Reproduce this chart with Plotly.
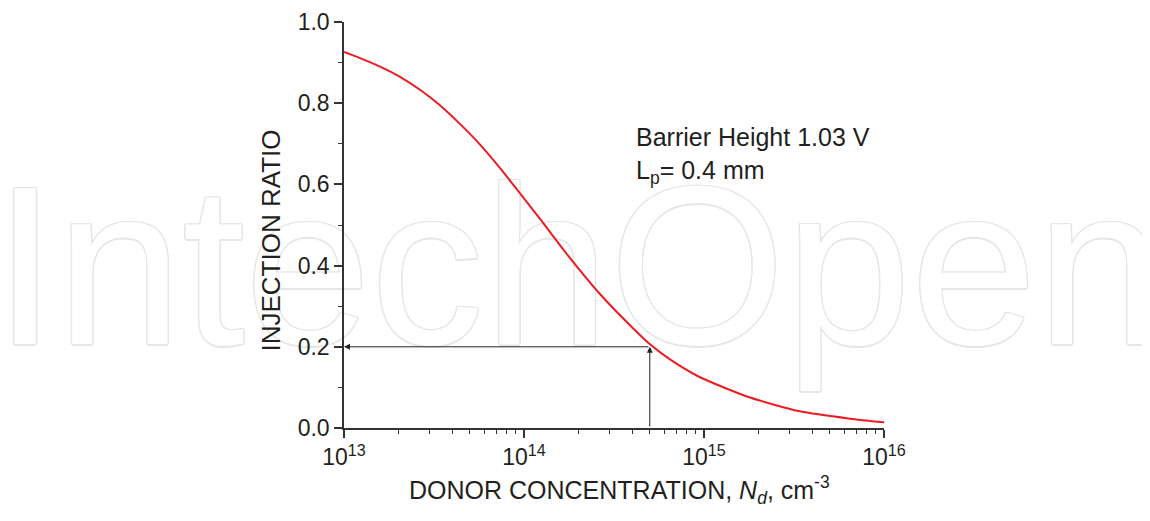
import plotly.graph_objects as go
import numpy as np

# ---- data ----
log_nd = [13.0, 13.089, 13.2, 13.311, 13.422, 13.533, 13.644, 13.756, 13.867,
          13.978, 14.089, 14.237, 14.422, 14.607, 14.7, 14.811, 14.978,
          15.256, 15.533, 15.811, 16.0]
injection_ratio = [0.926, 0.911, 0.890, 0.865, 0.833, 0.795, 0.749, 0.698, 0.640,
                   0.578, 0.515, 0.429, 0.330, 0.245, 0.206, 0.169, 0.125,
                   0.075, 0.041, 0.023, 0.014]
donor_conc = [10 ** v for v in log_nd]

x_tickvals = [1e13, 1e14, 1e15, 1e16]
x_ticktext = ["10<sup>13</sup>", "10<sup>14</sup>", "10<sup>15</sup>", "10<sup>16</sup>"]
y_tickvals = [0.0, 0.2, 0.4, 0.6, 0.8, 1.0]
y_ticktext = ["0.0", "0.2", "0.4", "0.6", "0.8", "1.0"]

marker_nd = 5e14      # arrow position
marker_ratio = 0.2

FONT = "Liberation Sans, Arial, sans-serif"
TXT = "#231f20"
AX = "#333333"
WM = "#e6e6e6"

# plot area in page pixels: x 344..884, y 22..428 (page has an 8px body margin)
def px(sx):
    return (sx - 344) / 540

def py(sy):
    return (428 - sy) / 406

fig = go.Figure()

# watermark (drawn first so the curve sits above it)
shadow = ", ".join(f"{dx}px {dy}px 0 {WM}" for dx, dy in
                   [(-1, -1), (1, -1), (-1, 1), (1, 1), (1.4, 0), (-1.4, 0), (0, 1.4), (0, -1.4)])
fig.add_trace(go.Scatter(
    x=[10 ** 14.30], y=[0.345], mode="text", text=["IntechOpen"],
    textposition="middle center", cliponaxis=False, hoverinfo="skip", showlegend=False,
    textfont=dict(family=FONT, size=226, color="white", shadow=shadow),
))

fig.add_trace(go.Scatter(
    x=donor_conc, y=injection_ratio, mode="lines",
    line=dict(color="#ed1c24", width=2, shape="spline", smoothing=0.6),
    hoverinfo="skip", showlegend=False,
))

lx = np.log10(marker_nd)
ax_left = np.log10(x_tickvals[0])
annotations = [
    # vertical arrow up from the axis to the curve
    dict(x=lx, y=marker_ratio, ax=lx, ay=0, xref="x", yref="y", axref="x", ayref="y",
         showarrow=True, arrowhead=2, arrowsize=1.2, arrowwidth=1, arrowcolor="#222", text=""),
    # horizontal arrow to the y axis
    dict(x=ax_left, y=marker_ratio, ax=lx, ay=marker_ratio, xref="x", yref="y", axref="x", ayref="y",
         showarrow=True, arrowhead=2, arrowsize=1.2, arrowwidth=1, arrowcolor="#222", text=""),
    dict(xref="paper", yref="paper", x=px(634), y=py(121),
         xanchor="left", yanchor="top", showarrow=False, align="left",
         text="Barrier Height 1.03 V<br>L<sub>p</sub>= 0.4 mm",
         font=dict(family=FONT, size=25, color=TXT)),
    dict(xref="paper", yref="paper", x=px(271), y=py(240.5),
         xanchor="center", yanchor="middle", showarrow=False, textangle=-90,
         text="INJECTION RATIO", font=dict(family=FONT, size=26, color=TXT)),
    dict(xref="paper", yref="paper", x=px(619), y=py(490),
         xanchor="center", yanchor="middle", showarrow=False,
         text="DONOR CONCENTRATION, <i>N<sub>d</sub></i>, cm<sup>-3</sup>",
         font=dict(family=FONT, size=25, color=TXT)),
]

fig.update_layout(
    width=1142, height=513,
    margin=dict(l=336, r=266, t=14, b=93, autoexpand=False),
    paper_bgcolor="white", plot_bgcolor="white",
    font=dict(family=FONT, color=TXT),
    annotations=annotations,
    xaxis=dict(
        type="log", range=[13, 16], showgrid=False, zeroline=False, automargin=False,
        showline=True, linecolor=AX, linewidth=1.5,
        ticks="outside", ticklen=8, tickwidth=1.5, tickcolor=AX,
        tickvals=x_tickvals, ticktext=x_ticktext,
        tickfont=dict(family=FONT, size=23, color=TXT),
        minor=dict(ticks="outside", ticklen=4, tickwidth=1.2, tickcolor=AX, dtick="D1", showgrid=False),
    ),
    yaxis=dict(
        range=[0, 1.0], showgrid=False, zeroline=False, automargin=False,
        showline=True, linecolor=AX, linewidth=1.5,
        ticks="outside", ticklen=8, tickwidth=1.5, tickcolor=AX,
        tickvals=y_tickvals, ticktext=y_ticktext,
        tickfont=dict(family=FONT, size=23, color=TXT),
        minor=dict(ticks="outside", ticklen=4, tickwidth=1.2, tickcolor=AX, dtick=0.1, showgrid=False),
    ),
)

fig.write_html("out.html")
